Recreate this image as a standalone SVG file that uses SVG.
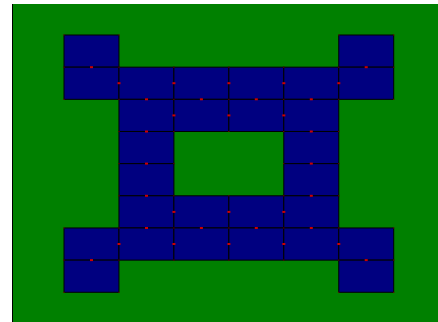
<svg xmlns="http://www.w3.org/2000/svg" width="438" height="322" viewBox="0 0 438 322">
<style>
.t{fill:#000080;stroke:#000;stroke-width:1}
.c{stroke:#cc0000;stroke-width:2}
.p{fill:#8a0000}
</style>
<rect x="0" y="0" width="438" height="322" fill="#ffffff"/>
<rect x="12" y="4" width="426" height="318" fill="#008000"/>
<line x1="12.5" y1="4" x2="12.5" y2="322" stroke="#000" stroke-width="1"/>
<g id="tiles">
<g id="t-0-0"><rect class="t" x="64" y="35" width="54.95" height="32.16"/></g>
<g id="t-0-5"><rect class="t" x="338.75" y="35" width="54.95" height="32.16"/></g>
<g id="t-1-0"><rect class="t" x="64" y="67.16" width="54.95" height="32.16"/></g>
<g id="t-1-1"><rect class="t" x="118.95" y="67.16" width="54.95" height="32.16"/></g>
<g id="t-1-2"><rect class="t" x="173.9" y="67.16" width="54.95" height="32.16"/></g>
<g id="t-1-3"><rect class="t" x="228.85" y="67.16" width="54.95" height="32.16"/></g>
<g id="t-1-4"><rect class="t" x="283.8" y="67.16" width="54.95" height="32.16"/></g>
<g id="t-1-5"><rect class="t" x="338.75" y="67.16" width="54.95" height="32.16"/></g>
<g id="t-2-1"><rect class="t" x="118.95" y="99.32" width="54.95" height="32.16"/></g>
<g id="t-2-2"><rect class="t" x="173.9" y="99.32" width="54.95" height="32.16"/></g>
<g id="t-2-3"><rect class="t" x="228.85" y="99.32" width="54.95" height="32.16"/></g>
<g id="t-2-4"><rect class="t" x="283.8" y="99.32" width="54.95" height="32.16"/></g>
<g id="t-3-1"><rect class="t" x="118.95" y="131.48" width="54.95" height="32.16"/></g>
<g id="t-3-4"><rect class="t" x="283.8" y="131.48" width="54.95" height="32.16"/></g>
<g id="t-4-1"><rect class="t" x="118.95" y="163.64" width="54.95" height="32.16"/></g>
<g id="t-4-4"><rect class="t" x="283.8" y="163.64" width="54.95" height="32.16"/></g>
<g id="t-5-1"><rect class="t" x="118.95" y="195.8" width="54.95" height="32.16"/></g>
<g id="t-5-2"><rect class="t" x="173.9" y="195.8" width="54.95" height="32.16"/></g>
<g id="t-5-3"><rect class="t" x="228.85" y="195.8" width="54.95" height="32.16"/></g>
<g id="t-5-4"><rect class="t" x="283.8" y="195.8" width="54.95" height="32.16"/></g>
<g id="t-6-0"><rect class="t" x="64" y="227.96" width="54.95" height="32.16"/></g>
<g id="t-6-1"><rect class="t" x="118.95" y="227.96" width="54.95" height="32.16"/></g>
<g id="t-6-2"><rect class="t" x="173.9" y="227.96" width="54.95" height="32.16"/></g>
<g id="t-6-3"><rect class="t" x="228.85" y="227.96" width="54.95" height="32.16"/></g>
<g id="t-6-4"><rect class="t" x="283.8" y="227.96" width="54.95" height="32.16"/></g>
<g id="t-6-5"><rect class="t" x="338.75" y="227.96" width="54.95" height="32.16"/></g>
<g id="t-7-0"><rect class="t" x="64" y="260.12" width="54.95" height="32.16"/></g>
<g id="t-7-5"><rect class="t" x="338.75" y="260.12" width="54.95" height="32.16"/></g>
</g>
<g id="ports" class="p">
<rect x="63.5" y="34.5" width="1" height="1"/><rect x="118.5" y="34.5" width="1" height="1"/><rect x="338.5" y="34.5" width="1" height="1"/><rect x="393.2" y="34.5" width="1" height="1"/>
<rect x="63.5" y="66.7" width="1" height="1"/><rect x="118.5" y="66.7" width="1" height="1"/><rect x="173.4" y="66.7" width="1" height="1"/><rect x="228.4" y="66.7" width="1" height="1"/><rect x="283.3" y="66.7" width="1" height="1"/><rect x="338.3" y="66.7" width="1" height="1"/><rect x="393.2" y="66.7" width="1" height="1"/>
<rect x="63.5" y="98.8" width="1" height="1"/><rect x="118.5" y="98.8" width="1" height="1"/><rect x="173.4" y="98.8" width="1" height="1"/><rect x="228.4" y="98.8" width="1" height="1"/><rect x="283.3" y="98.8" width="1" height="1"/><rect x="338.3" y="98.8" width="1" height="1"/><rect x="393.2" y="98.8" width="1" height="1"/>
<rect x="118.5" y="131" width="1" height="1"/><rect x="173.4" y="131" width="1" height="1"/><rect x="228.4" y="131" width="1" height="1"/><rect x="283.3" y="131" width="1" height="1"/><rect x="338.3" y="131" width="1" height="1"/>
<rect x="118.5" y="163.1" width="1" height="1"/><rect x="173.4" y="163.1" width="1" height="1"/><rect x="283.3" y="163.1" width="1" height="1"/><rect x="338.3" y="163.1" width="1" height="1"/>
<rect x="118.5" y="195.3" width="1" height="1"/><rect x="173.4" y="195.3" width="1" height="1"/><rect x="228.4" y="195.3" width="1" height="1"/><rect x="283.3" y="195.3" width="1" height="1"/><rect x="338.3" y="195.3" width="1" height="1"/>
<rect x="63.5" y="227.5" width="1" height="1"/><rect x="118.5" y="227.5" width="1" height="1"/><rect x="173.4" y="227.5" width="1" height="1"/><rect x="228.4" y="227.5" width="1" height="1"/><rect x="283.3" y="227.5" width="1" height="1"/><rect x="338.3" y="227.5" width="1" height="1"/><rect x="393.2" y="227.5" width="1" height="1"/>
<rect x="63.5" y="259.6" width="1" height="1"/><rect x="118.5" y="259.6" width="1" height="1"/><rect x="173.4" y="259.6" width="1" height="1"/><rect x="228.4" y="259.6" width="1" height="1"/><rect x="283.3" y="259.6" width="1" height="1"/><rect x="338.3" y="259.6" width="1" height="1"/><rect x="393.2" y="259.6" width="1" height="1"/>
<rect x="63.5" y="291.8" width="1" height="1"/><rect x="118.5" y="291.8" width="1" height="1"/><rect x="338.3" y="291.8" width="1" height="1"/><rect x="393.2" y="291.8" width="1" height="1"/>
</g>
<g id="connectors" class="c">
<line x1="90" y1="67.2" x2="93" y2="67.2"/>
<line x1="364.7" y1="67.2" x2="367.7" y2="67.2"/>
<line x1="117.5" y1="83.2" x2="120.5" y2="83.2"/>
<line x1="172.4" y1="83.2" x2="175.4" y2="83.2"/>
<line x1="227.4" y1="83.2" x2="230.4" y2="83.2"/>
<line x1="282.3" y1="83.2" x2="285.3" y2="83.2"/>
<line x1="337.3" y1="83.2" x2="340.3" y2="83.2"/>
<line x1="145" y1="99.3" x2="148" y2="99.3"/>
<line x1="199.9" y1="99.3" x2="202.9" y2="99.3"/>
<line x1="254.8" y1="99.3" x2="257.8" y2="99.3"/>
<line x1="309.8" y1="99.3" x2="312.8" y2="99.3"/>
<line x1="172.4" y1="115.4" x2="175.4" y2="115.4"/>
<line x1="227.4" y1="115.4" x2="230.4" y2="115.4"/>
<line x1="282.3" y1="115.4" x2="285.3" y2="115.4"/>
<line x1="145" y1="131.5" x2="148" y2="131.5"/>
<line x1="309.8" y1="131.5" x2="312.8" y2="131.5"/>
<line x1="145" y1="163.6" x2="148" y2="163.6"/>
<line x1="309.8" y1="163.6" x2="312.8" y2="163.6"/>
<line x1="145" y1="195.8" x2="148" y2="195.8"/>
<line x1="309.8" y1="195.8" x2="312.8" y2="195.8"/>
<line x1="172.4" y1="211.9" x2="175.4" y2="211.9"/>
<line x1="227.4" y1="211.9" x2="230.4" y2="211.9"/>
<line x1="282.3" y1="211.9" x2="285.3" y2="211.9"/>
<line x1="145" y1="228" x2="148" y2="228"/>
<line x1="199.9" y1="228" x2="202.9" y2="228"/>
<line x1="254.8" y1="228" x2="257.8" y2="228"/>
<line x1="309.8" y1="228" x2="312.8" y2="228"/>
<line x1="117.5" y1="244" x2="120.5" y2="244"/>
<line x1="172.4" y1="244" x2="175.4" y2="244"/>
<line x1="227.4" y1="244" x2="230.4" y2="244"/>
<line x1="282.3" y1="244" x2="285.3" y2="244"/>
<line x1="337.3" y1="244" x2="340.3" y2="244"/>
<line x1="90" y1="260.1" x2="93" y2="260.1"/>
<line x1="364.7" y1="260.1" x2="367.7" y2="260.1"/>
</g>
</svg>
